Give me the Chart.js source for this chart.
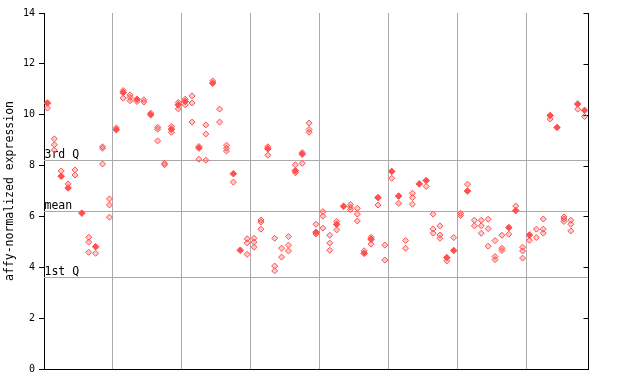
<!DOCTYPE html>
<html><head><meta charset="utf-8">
<script src="https://cdn.jsdelivr.net/npm/chart.js@4/dist/chart.umd.min.js"></script>
<style>html,body{margin:0;padding:0;background:#fff;}canvas{display:block;}</style>
</head><body>
<canvas id="c" width="640" height="384"></canvas>
<script>
// ---- data ----
// one entry per sample (x position = sample number); null = no solid point
const filledValues = [
  10.46, null, 7.58, 7.12, null, 6.13, null, 4.81, null, null,
  9.41, 10.87, null, 10.61, null, 10.00, null, null, 9.43, 10.39,
  10.52, null, 8.69, null, 11.24, null, null, 7.68, 4.67, null,
  null, null, 8.66, null, null, null, 7.80, 8.45, null, 5.38,
  null, null, 5.69, 6.40, null, null, 4.55, 5.10, 6.74, null,
  7.77, 6.80, null, null, 7.28, 7.41, null, null, 4.38, 4.66,
  null, 7.00, null, null, null, null, null, 5.56, 6.23, null,
  5.27, null, null, 9.97, 9.50, null, null, 10.42, 10.17
];
// replicate (open diamond) values for each sample
const replicateValues = [
  [10.26], [9.05, 8.82, 8.61], [7.79], [7.28], [7.83, 7.63], [], [5.18, 4.99, 4.59], [4.55], [8.74, 8.68, 8.06], [6.69, 6.45, 5.97],
  [9.48], [10.95, 10.65], [10.78, 10.68, 10.55], [10.52], [10.59, 10.50], [10.06], [9.51, 9.43, 8.97], [8.09, 8.03], [9.54, 9.31], [10.48, 10.23],
  [10.61, 10.39], [10.74, 10.46, 9.71], [8.75, 8.25], [9.60, 9.24, 8.21], [11.33], [10.22, 9.71], [8.80, 8.68, 8.57], [7.35], [], [5.12, 4.96, 4.51],
  [5.14, 4.99, 4.79], [5.86, 5.78, 5.50], [8.74, 8.41], [5.14, 4.05, 3.86], [4.75, 4.40], [5.21, 4.87, 4.64], [8.03, 7.72], [8.51, 8.09], [9.67, 9.42, 9.31], [5.69, 5.31],
  [6.19, 6.01, 5.54], [5.26, 4.95, 4.67], [5.80, 5.47], [], [6.47, 6.37, 6.27], [6.32, 6.09, 5.82], [4.65], [5.18, 4.91], [6.45], [4.87, 4.28],
  [7.50], [6.52], [5.05, 4.75], [6.91, 6.74, 6.48], [], [7.18], [6.09, 5.51, 5.34], [5.63, 5.27, 5.14], [4.25], [5.17],
  [6.12, 6.04], [7.27], [5.85, 5.63], [5.85, 5.63, 5.34], [5.89, 5.52, 4.83], [5.05, 4.42, 4.30], [5.26, 4.75, 4.66], [5.30], [6.41], [4.79, 4.64, 4.36],
  [5.06], [5.50, 5.17], [5.90, 5.50, 5.34], [9.83], [], [5.98, 5.90, 5.80], [5.85, 5.69, 5.43], [10.22], [9.93]
];
const groupBoundaries = [9.5, 19.5, 29.5, 39.5, 49.5, 59.5, 69.5];
const yTickValues = [0, 2, 4, 6, 8, 10, 12, 14];
const refLineNames = ['3rd Q', 'mean', '1st Q'];
const refLineValues = [8.22, 6.22, 3.62];

// ---- build point lists ----
const filledPoints = [];
filledValues.forEach((v, i) => { if (v !== null) filledPoints.push({x: i, y: v}); });
const openPoints = [];
replicateValues.forEach((arr, i) => arr.forEach(v => openPoints.push({x: i, y: v})));

const RED = '#ff5050';
const MONO = '"DejaVu Sans Mono", "Liberation Mono", monospace';

const overlay = {
  id: 'overlay',
  beforeDatasetsDraw(chart) {
    const {ctx, chartArea: a, scales: {y}} = chart;
    ctx.save();
    ctx.strokeStyle = '#aaaaaa';
    ctx.lineWidth = 1;
    ctx.fillStyle = '#000';
    ctx.font = '11.5px ' + MONO;
    ctx.textAlign = 'left';
    ctx.textBaseline = 'bottom';
    refLineValues.forEach((v, k) => {
      const py = Math.round(y.getPixelForValue(v)) + 0.5;
      ctx.beginPath(); ctx.moveTo(a.left, py); ctx.lineTo(a.right, py); ctx.stroke();
      ctx.fillText(refLineNames[k], a.left + 0.5, py);
    });
    // right frame line with inward ticks
    ctx.strokeStyle = '#000';
    const rx = Math.round(a.right) + 0.5;
    ctx.beginPath(); ctx.moveTo(rx, a.top); ctx.lineTo(rx, a.bottom); ctx.stroke();
    yTickValues.forEach(v => {
      const py = Math.round(y.getPixelForValue(v)) + 0.5;
      ctx.beginPath(); ctx.moveTo(rx - 5, py); ctx.lineTo(rx, py); ctx.stroke();
    });
    ctx.restore();
  }
};

new Chart(document.getElementById('c'), {
  type: 'scatter',
  data: {
    datasets: [
      {data: openPoints, pointStyle: 'rectRot', pointRadius: 3, borderColor: RED,
       backgroundColor: 'rgba(255,80,80,0.3)', borderWidth: 1},
      {data: filledPoints, pointStyle: 'rectRot', pointRadius: 3.3, borderColor: RED,
       backgroundColor: RED, borderWidth: 1}
    ]
  },
  options: {
    responsive: false,
    animation: false,
    devicePixelRatio: 1,
    events: [],
    layout: {padding: {top: 13, right: 52, bottom: 15, left: 0}},
    plugins: {legend: {display: false}, tooltip: {enabled: false}},
    scales: {
      x: {
        type: 'linear', min: -0.5, max: 78.5,
        afterBuildTicks: s => { s.ticks = groupBoundaries.map(v => ({value: v})); },
        afterFit: s => { s.height = 0; },
        ticks: {display: false},
        grid: {color: '#aaaaaa', drawTicks: false, lineWidth: 1},
        border: {display: true, color: '#000', width: 1}
      },
      y: {
        type: 'linear', min: 0, max: 14,
        afterBuildTicks: s => { s.ticks = yTickValues.map(v => ({value: v})); },
        afterFit: s => { s.width = 44; },
        ticks: {color: '#000', font: {family: MONO, size: 10}, padding: 4},
        grid: {drawOnChartArea: false, drawTicks: true, tickLength: 5, tickColor: '#000'},
        border: {display: true, color: '#000', width: 1},
        title: {display: true, text: 'affy-normalized expression', color: '#000',
                font: {family: MONO, size: 11.5}, padding: {top: 3, bottom: 0}}
      }
    }
  },
  plugins: [overlay]
});
</script>
</body></html>
